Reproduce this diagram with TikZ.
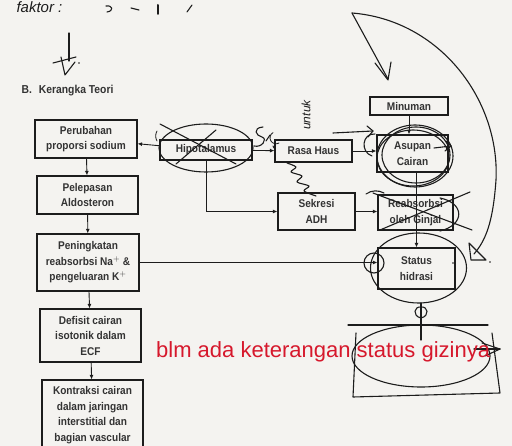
\documentclass[tikz,border=0pt]{standalone}
\usepackage{fontspec}
\usepackage{graphicx}
\setmainfont{Liberation Sans}
\newfontfamily\scanfont{Liberation Sans}[FakeStretch=0.9]
\usetikzlibrary{arrows.meta,calc}
\definecolor{paper}{RGB}{244,243,240}
\definecolor{ink}{RGB}{28,28,28}
\definecolor{redink}{RGB}{214,24,44}
\begin{document}
\begin{tikzpicture}[x=1pt,y=-1pt,
 box/.style={draw=ink,line width=1.1pt,align=center,inner sep=0pt,
   font=\scanfont\bfseries\fontsize{11.2}{15.5}\selectfont,text=ink!90},
 arr/.style={draw=ink,line width=0.9pt,-{Latex[length=4.5pt,width=4pt]}},
 hand/.style={draw=ink,line width=1.1pt,line cap=round,line join=round},
]
\fill[paper] (0,0) rectangle (512,446);
\useasboundingbox (0,0) rectangle (512,446);

% ---------- printed diagram ----------
\node[anchor=base west,font=\scanfont\bfseries\fontsize{11.5}{13}\selectfont,text=ink!90] (ttl) at (18,94) {B.\hskip 7pt Kerangka Teori};

\node[box,minimum width=102pt,minimum height=38pt] (per) at (86,139) {Perubahan\\proporsi sodium};
\node[box,minimum width=101pt,minimum height=38pt] (pel) at (87.5,195) {Pelepasan\\Aldosteron};
\node[box,minimum width=102pt,minimum height=57pt] (pen) at (88,262.5) {Peningkatan\\reabsorbsi Na$^{+}$ \&\\pengeluaran K$^{+}$};
\node[box,minimum width=101pt,minimum height=53pt] (def) at (90.5,335.5) {Defisit cairan\\isotonik dalam\\ECF};
\node[box,minimum width=101pt,minimum height=70pt] (kon) at (92.5,415) {Kontraksi cairan\\dalam jaringan\\interstitial dan\\bagian vascular};

\node[box,minimum width=92pt,minimum height=20pt] (hip) at (206,150) {Hipotalamus};
\node[box,minimum width=77pt,minimum height=22pt] (rasa) at (313.5,151) {Rasa Haus};
\node[box,minimum width=77pt,minimum height=37pt] (sek) at (316.5,211.5) {Sekresi\\ADH};
\node[box,minimum width=78pt,minimum height=18pt] (min) at (409,106) {Minuman};
\node[box,minimum width=71pt,minimum height=37pt] (asu) at (412.5,153.5) {Asupan\\Cairan};
\node[box,minimum width=75pt,minimum height=35pt] (rea) at (415.5,212.5) {Reabsorbsi\\oleh Ginjal};
\node[box,minimum width=77pt,minimum height=41pt] (sta) at (416.5,268.5) {Status\\hidrasi};

\draw[arr] (per) -- (pel);
\draw[arr] (pel) -- (pen);
\draw[arr] (pen) -- (def);
\draw[arr] (def) -- (kon);
\draw[arr] (hip) -- (per);
\draw[arr] (hip) -- (rasa);
\draw[arr] (hip.south) |- (sek.west);
\draw[arr] (rasa.east) -- (rasa.east -| asu.west);
\draw[arr] (sek.east) -- (sek.east -| rea.west);
\draw[arr] (min.south) -- (min.south |- asu.north);
\draw[arr] (sta.north |- asu.south) -- (sta.north);
\draw[arr] (pen.east) -- (pen.east -| sta.west);

% ---------- handwriting ----------
\node[anchor=base west,font=\itshape\fontsize{15}{15}\selectfont,text=ink] (fak) at (13,13) {faktor :};
\draw[hand] (106,6) .. controls (113,5) and (114,11) .. (107,12);
\draw[hand] (131,8) -- (139,10);
\draw[hand,line width=2pt] (158,5) -- (158,14);
\draw[hand] (192,5) -- (187,12);

% small arrow with open head, top left
\draw[hand] (69,33) -- (69,61);
\draw[hand] (53,63) -- (76,57);
\draw[hand] (61,57) -- (65,75) -- (75,62);
\fill[ink] (79,63) circle (0.9);

% big loop arrow
\coordinate (top) at (352,13);
\draw[hand] (top) .. controls (440,20) and (500,100) .. (496,180) .. controls (493,222) and (486,240) .. (474,254);
\draw[hand] (469,243) -- (471,260) -- (486,260) -- cycle;
\draw[hand] (top) -- (388,79);
\draw[hand] (375,63) -- (388,80) -- (391,62);

% Hipotalamus crossed out
\draw[hand] (206,148) ellipse [x radius=47, y radius=24];
\draw[hand] (160,124) -- (236,164);
\draw[hand] (176,164) -- (216,130);
\draw[hand,line width=0.8pt] (157,141) arc[start angle=150,end angle=210,radius=10];

% scribbles between Hipotalamus and Rasa Haus
\draw[hand] (263,127) .. controls (252,128) and (256,136) .. (262,137) .. controls (268,139) and (262,148) .. (254,146);
\draw[hand] (266,141) -- (270,135);
\draw[hand] (273,146) -- (274,148);
\draw[hand,line width=0.8pt] (279,143) arc[start angle=60,end angle=240,radius=6];
\node[font=\itshape\fontsize{12}{12}\selectfont,text=ink,rotate=90,inner sep=0pt] (unt) at (306,115) {untuk};
\draw[hand] plot[smooth] coordinates {(287,163) (296,167) (291,172) (302,176) (297,182) (309,186) (304,191) (316,196)};

% Asupan Cairan circled
\draw[hand] (415,156) ellipse [x radius=38, y radius=31];
\draw[hand] (416,155) ellipse [x radius=34, y radius=28];
\draw[hand] (413,158) ellipse [x radius=36, y radius=28];
\draw[hand] (333,133) -- (373,131);
\draw[hand] (367,126) -- (373,131) -- (368,137);
\draw[hand] (375,134) .. controls (362,133) and (360,152) .. (372,156);
\draw[hand] (434,148) -- (451,146);
\draw[hand] (446,141) -- (451,146) -- (445,151);

% Reabsorbsi crossed out
\draw[hand] (373,193) -- (472,230);
\draw[hand] (380,230) -- (470,192);
\draw[hand] (440,198) .. controls (465,203) and (465,225) .. (440,231);
\draw[hand] (366,194) .. controls (372,190) and (378,190) .. (384,193);

% Status hidrasi circled
\draw[hand] (418.5,268) ellipse [x radius=48, y radius=35];
\draw[hand] (374,263) circle (10);
\fill[ink] (453,263) circle (0.9);
\fill[ink] (490,262) circle (0.9);

% link to status gizi
\draw[hand] (421,303) -- (421,340);
\draw[hand] (421,318) .. controls (412,316) and (414,306) .. (421,307) .. controls (428,306) and (430,316) .. (421,318);
\draw[hand] (348,325) -- (488,325);
\draw[hand] (356,333) -- (353,397) -- (500,393) -- (492,333);
\draw[hand] (421,356) ellipse [x radius=69, y radius=31];
\draw[hand] (482,343) -- (500,349) -- (485,356);
\draw[hand] (474,349) -- (500,349);

% red remark
\node[anchor=base west,inner sep=0pt,font=\fontsize{22}{22}\selectfont,text=redink] (rem) at (156,358) {blm ada keterangan status gizinya};
\end{tikzpicture}
\end{document}
